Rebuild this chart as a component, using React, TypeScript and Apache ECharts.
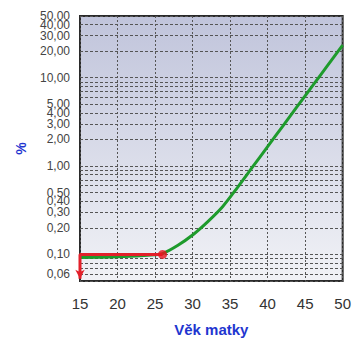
import React, { useEffect, useRef } from "react";
import * as echarts from "echarts";

const ages = [15, 20, 25, 26, 28, 30, 32, 34, 36, 38, 40, 42, 44, 46, 48, 50];
const risk = [0.092, 0.094, 0.099, 0.102, 0.126, 0.166, 0.234, 0.347, 0.575, 0.977, 1.66, 2.82, 4.79, 8.13, 13.8, 23.4];
const markerAge = 26;
const markerValue = 0.1;
const yLabelValues = [0.06, 0.1, 0.2, 0.3, 0.4, 0.5, 1, 2, 3, 4, 5, 10, 20, 30, 50];
const yExtraLabelValues = [40];
const yGridValues = [
  0.05, 0.06, 0.07, 0.08, 0.09, 0.1, 0.2, 0.3, 0.4, 0.5, 0.6, 0.7, 0.8, 0.9, 1,
  2, 3, 4, 5, 6, 7, 8, 9, 10, 20, 30, 40, 50,
];
const xTitle = "Věk matky";
const yTitle = "%";

export default function App() {
  const ref = useRef<HTMLDivElement>(null);
  useEffect(() => {
    if (!ref.current) return;
    const chart = echarts.init(ref.current, null, { renderer: "svg" });
    const font = "Liberation Sans, Arial, sans-serif";
    const fmt = (v: number) => v.toFixed(2).replace(".", ",");
    const labelBase = {
      showMaxLabel: true,
      showMinLabel: true,
      hideOverlap: false,
      color: "#444",
      fontSize: 12,
      margin: 10,
      fontFamily: font,
      formatter: fmt,
    };
    chart.setOption({
      animation: false,
      textStyle: { fontFamily: font },
      grid: {
        left: 80,
        right: 8,
        top: 16,
        bottom: 58,
        show: true,
        borderColor: "#2a2a2a",
        borderWidth: 2,
        backgroundColor: {
          type: "linear",
          x: 0,
          y: 0,
          x2: 0,
          y2: 1,
          colorStops: [
            { offset: 0, color: "#c0c4db" },
            { offset: 1, color: "#f1f2f6" },
          ],
        },
      },
      xAxis: {
        type: "value",
        min: 15,
        max: 50,
        interval: 5,
        name: xTitle,
        nameLocation: "middle",
        nameGap: 41,
        nameTextStyle: { color: "#1f36d0", fontSize: 15, fontWeight: "bold", fontFamily: font },
        axisLine: { show: false },
        axisTick: { show: false },
        axisLabel: { color: "#333", fontSize: 15, margin: 15, fontFamily: font },
        splitLine: { show: true, lineStyle: { color: "#555", type: [2, 2], width: 1 } },
      },
      yAxis: [
        {
          type: "log",
          logBase: 10,
          min: 0.05,
          max: 50,
          position: "left",
          name: yTitle,
          nameLocation: "middle",
          nameRotate: 90,
          nameGap: 52,
          nameTextStyle: { color: "#1f36d0", fontSize: 14, fontWeight: "bold", fontFamily: font },
          axisLine: { show: false },
          axisTick: { show: false, customValues: yGridValues },
          axisLabel: { ...labelBase, customValues: yLabelValues },
          splitLine: { show: true, lineStyle: { color: "#555", type: [3, 2], width: 1 } },
        },
        {
          type: "log",
          logBase: 10,
          min: 0.05,
          max: 50,
          position: "left",
          offset: 0,
          axisLine: { show: false },
          axisTick: { show: false, customValues: yExtraLabelValues },
          axisLabel: { ...labelBase, customValues: yExtraLabelValues },
          splitLine: { show: false },
        },
      ],
      series: [
        {
          type: "line",
          data: ages.map((a, i) => [a, risk[i]]),
          smooth: 0.3,
          symbol: "none",
          lineStyle: { color: "#1e9b2c", width: 3 },
          z: 3,
        },
        {
          type: "line",
          clip: false,
          data: [
            { value: [markerAge, markerValue], symbol: "none" },
            { value: [15, markerValue], symbol: "none" },
            { value: [15, 0.053], symbol: "arrow", symbolSize: [7, 9], symbolRotate: 180 },
          ],
          showSymbol: true,
          lineStyle: { color: "#e3202a", width: 3 },
          itemStyle: { color: "#e3202a" },
          z: 4,
        },
        {
          type: "scatter",
          data: [[markerAge, markerValue]],
          symbolSize: 9,
          itemStyle: { color: "#e8141e" },
          z: 5,
        },
      ],
    });
    return () => chart.dispose();
  }, []);
  return <div ref={ref} style={{ width: 354, height: 342, position: "absolute", left: 0, top: 0 }} />;
}
